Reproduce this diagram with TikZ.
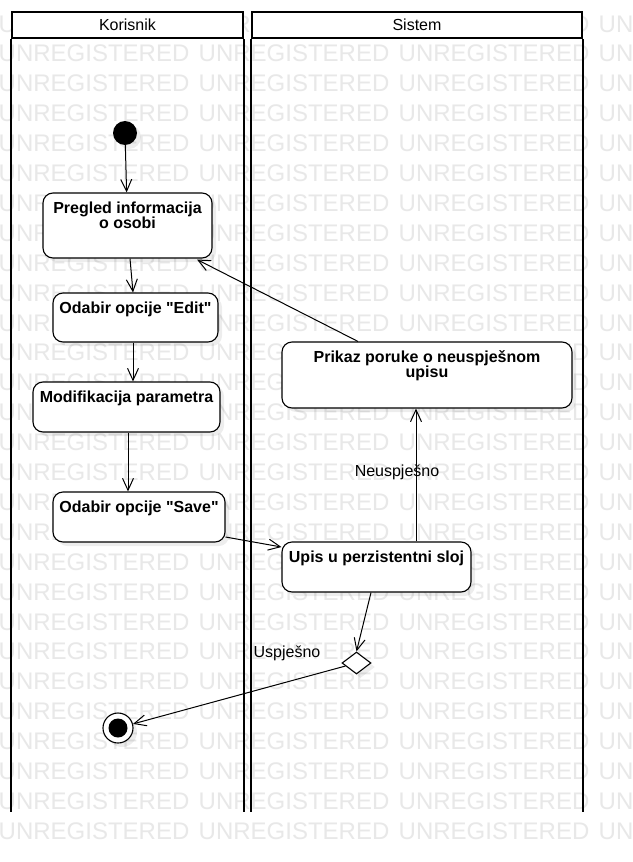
\documentclass[tikz,border=0pt]{standalone}
\usepackage{fontspec}
\setmainfont{Liberation Sans}[Ligatures=TeXOff]
\usetikzlibrary{arrows.meta,shapes.geometric,shadows}
\newcommand{\boxtext}[3]{\parbox[c][#2pt][t]{#1pt}{\centering\rule{0pt}{20.5pt}#3}}
\tikzset{
  wm/.style={text=black!9, font=\fontsize{24}{26}\selectfont, inner sep=0pt, anchor=base west},
  shade/.style={drop shadow={shadow xshift=4pt, shadow yshift=-4pt, fill=black, opacity=0.07}},
  actbox/.style={draw, fill=white, rounded corners=10pt, line width=1.1pt, inner sep=0pt,
    font=\bfseries\fontsize{16}{15}\selectfont, shade},
  lanehead/.style={draw, fill=white, line width=2.2pt, inner sep=0pt,
    font=\fontsize{16}{18}\selectfont},
  laneline/.style={line width=2.4pt},
  flow/.style={line width=1pt, -{Straight Barb[length=12pt,width=11pt,line width=1pt]}},
  lbl/.style={font=\fontsize{16}{18}\selectfont, inner sep=0pt},
}
\begin{document}
\begin{tikzpicture}[x=1pt,y=-1pt]
\useasboundingbox[fill=white] (0,0) rectangle (632,862);
% watermark
\foreach \k in {0,...,27}{
  \foreach \c in {0,200,400,600}{
    \node[wm] (wm-\k-\c) at (\c-1.5, 23+29.9*\k+9) {UNREGISTERED};
  }
}
% lanes
\node[lanehead, minimum width=231pt, minimum height=26pt] (korisnik) at (127.5,25) {Korisnik};
\node[lanehead, minimum width=330pt, minimum height=26pt] (sistem) at (417,25) {Sistem};
\draw[laneline] (korisnik.south west) -- (korisnik.south west |- 0,812);
\draw[laneline] (korisnik.south east) -- (korisnik.south east |- 0,812);
\draw[laneline] (sistem.south west) -- (sistem.south west |- 0,812);
\draw[laneline] (sistem.south east) -- (sistem.south east |- 0,812);
% nodes
\node[circle, fill=black, minimum size=24pt, inner sep=0pt, shade] (init) at (125,133) {};
\node[actbox] (pregled) at (127.5,225.5) {\boxtext{169}{65}{Pregled informacija\\o osobi}};
\node[actbox] (edit) at (135.5,317.5) {\boxtext{165}{49}{Odabir opcije "Edit"}};
\node[actbox] (modif) at (126.5,407) {\boxtext{187}{50}{Modifikacija parametra}};
\node[actbox] (save) at (139,517) {\boxtext{172}{50}{Odabir opcije "Save"}};
\node[actbox] (upis) at (376.5,567) {\boxtext{189}{50}{Upis u perzistentni sloj}};
\node[actbox] (prikaz) at (427,375) {\boxtext{290}{66}{Prikaz poruke o neuspješnom\\upisu}};
\node[diamond, draw, fill=white, line width=1.1pt, inner sep=0pt, minimum width=29pt, minimum height=22pt, shade] (dec) at (356.5,663) {};
\node[circle, draw, fill=white, line width=1.1pt, minimum size=30pt, inner sep=0pt, shade] (final) at (118,728) {};
\fill (final.center) circle (9.5pt);
% connectors
\draw[flow] (init) -- (pregled);
\draw[flow] ([xshift=2.5pt]pregled.south) -- ([xshift=5.5pt]pregled.south |- edit.north);
\draw[flow] ([xshift=-2.5pt]edit.south) -- ([xshift=-2.5pt]edit.south |- modif.north);
\draw[flow] ([xshift=1.5pt]modif.south) -- ([xshift=1.5pt]modif.south |- save.north);
\draw[flow] ([yshift=-20pt]save.east) -- ([yshift=20pt]upis.west);
\draw[flow] ([xshift=39.5pt]upis.north) -- ([xshift=39.5pt]upis.north |- prikaz.south);
\node[lbl] (neusplbl) at (397,472) {Neuspješno};
\draw[flow] ([xshift=-69pt]prikaz.north) -- ([xshift=69.5pt,yshift=-1pt]pregled.south);
\draw[flow] ([xshift=-5.5pt]upis.south) -- (dec.north);
\draw[flow] (dec) -- (final);
\node[lbl] (usplbl) at (287,653) {Uspješno};
\end{tikzpicture}
\end{document}
